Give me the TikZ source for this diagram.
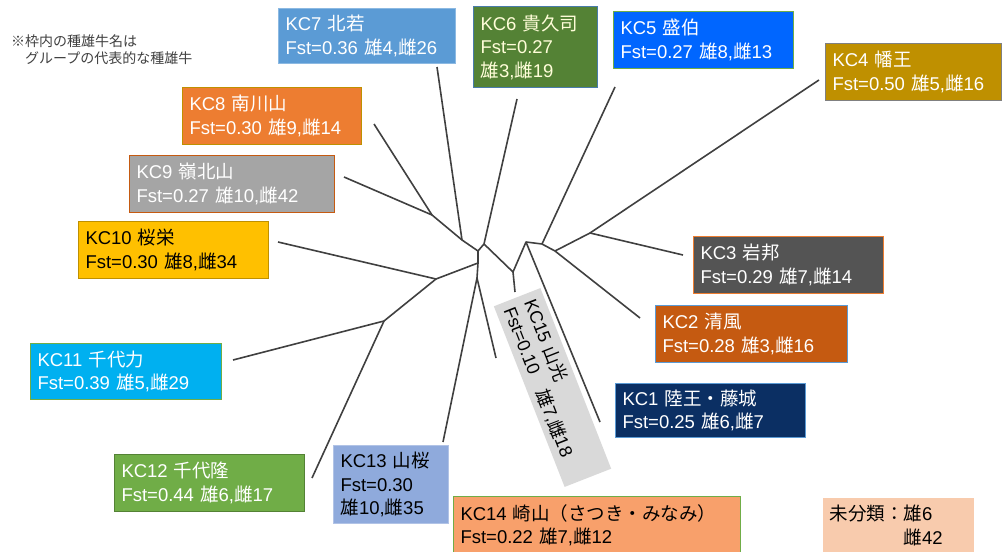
\documentclass[tikz,border=0pt]{standalone}
\usepackage{fontspec}
\setmainfont{Liberation Sans}
\newfontfamily\jp{Noto Sans CJK JP}
\newcommand\J[1]{{\jp #1}}
\definecolor{cK1}{HTML}{0B2F63}
\definecolor{cK2}{HTML}{C55A11}
\definecolor{cK3}{HTML}{545454}
\definecolor{cK4}{HTML}{BF9000}
\definecolor{cK5}{HTML}{0066FF}
\definecolor{cK6}{HTML}{548235}
\definecolor{cK7}{HTML}{5B9BD5}
\definecolor{cK8}{HTML}{ED7D31}
\definecolor{cK9}{HTML}{A5A5A5}
\definecolor{cK10}{HTML}{FFC000}
\definecolor{cK11}{HTML}{00B0F0}
\definecolor{cK12}{HTML}{70AD47}
\definecolor{cK13}{HTML}{8FAADC}
\definecolor{cK14}{HTML}{F8A06B}
\definecolor{cK15}{HTML}{D9D9D9}
\definecolor{cUnc}{HTML}{F8CBAD}
\definecolor{lineC}{HTML}{404040}
\tikzset{
  kb/.style={draw, line width=1pt, anchor=north west, inner xsep=7pt, inner ysep=0pt,
    align=left, font=\fontsize{18.5}{23.5}\selectfont},
  br/.style={draw=lineC, line width=1.6pt, line join=round},
}
\begin{document}
\begin{tikzpicture}[x=1pt,y=-1pt]
\useasboundingbox (0,0) rectangle (1003,551);
% tree points
\coordinate (r) at (478,251);
\coordinate (a7) at (462,240);
\coordinate (a89) at (432,215);
\coordinate (e7) at (437,67);
\coordinate (e8) at (374,124);
\coordinate (e9) at (344,177);
\coordinate (a6) at (484,244);
\coordinate (e6) at (517,99);
\coordinate (aV) at (513,272);
\coordinate (e15) at (515,292);
\coordinate (c) at (526,242);
\coordinate (c5) at (542,244);
\coordinate (c3) at (555,251);
\coordinate (a34) at (590,233);
\coordinate (e4) at (819,80);
\coordinate (e3) at (683,255);
\coordinate (e5) at (615,87);
\coordinate (e2) at (640,318);
\coordinate (e1) at (600,422);
\coordinate (m) at (478,263);
\coordinate (n) at (477,278);
\coordinate (a10) at (436,279);
\coordinate (e10) at (278,242);
\coordinate (a1112) at (384,321);
\coordinate (e11) at (233,360);
\coordinate (e12) at (312,478);
\coordinate (e13) at (443,442);
\coordinate (e14) at (496,358);
% branches
\draw[br] (e8) -- (a89);
\draw[br] (e9) -- (a89) -- (a7) -- (r);
\draw[br] (e7) -- (a7);
\draw[br] (e6) -- (a6) -- (r);
\draw[br] (a6) -- (aV) -- (c) -- (c5) -- (c3) -- (a34) -- (e4);
\draw[br] (aV) -- (e15);
\draw[br] (c) -- (e1);
\draw[br] (c5) -- (e5);
\draw[br] (c3) -- (e2);
\draw[br] (a34) -- (e3);
\draw[br] (r) -- (m) -- (n);
\draw[br] (m) -- (a10) -- (e10);
\draw[br] (a10) -- (a1112) -- (e11);
\draw[br] (a1112) -- (e12);
\draw[br] (n) -- (e13);
\draw[br] (n) -- (e14);
% note
\node[anchor=north west, inner sep=0pt, align=left, text=black!75,
  font=\jp\fontsize{14}{17}\selectfont] (note) at (11,34)
  {※枠内の種雄牛名は\\　グループの代表的な種雄牛};
% boxes
\node[kb, fill=cK7, draw=cK7!70, text=white, minimum height=55pt, text width=163pt] (k7) at (278,8)
  {KC7 \J{北若}\\Fst=0.36 \J{雄}4,\J{雌}26};
\node[kb, fill=cK6, draw=cK7!80!black, text=yellow!15, minimum height=81pt, text width=110pt] (k6) at (473,6)
  {KC6 \J{貴久司}\\Fst=0.27\\\J{雄}3,\J{雌}19};
\node[kb, fill=cK5, draw=cK12, text=white, minimum height=57pt, text width=166pt] (k5) at (613,11)
  {KC5 \J{盛伯}\\Fst=0.27 \J{雄}8,\J{雌}13};
\node[kb, fill=cK4, draw=gray, text=white, minimum height=57pt, text width=162pt] (k4) at (825,43)
  {KC4 \J{幡王}\\Fst=0.50 \J{雄}5,\J{雌}16};
\node[kb, fill=cK8, draw=cK4, text=white, minimum height=57pt, text width=165pt] (k8) at (182,87)
  {KC8 \J{南川山}\\Fst=0.30 \J{雄}9,\J{雌}14};
\node[kb, fill=cK9, draw=cK2, text=white, minimum height=57pt, text width=191pt] (k9) at (129,155)
  {KC9 \J{嶺北山}\\Fst=0.27 \J{雄}10,\J{雌}42};
\node[kb, fill=cK10, draw=cK4, text=black, minimum height=57pt, text width=176pt] (k10) at (78,221)
  {KC10 \J{桜栄}\\Fst=0.30 \J{雄}8,\J{雌}34};
\node[kb, fill=cK11, draw=cK12, text=white, minimum height=56pt, text width=177pt] (k11) at (30,343)
  {KC11 \J{千代力}\\Fst=0.39 \J{雄}5,\J{雌}29};
\node[kb, fill=cK12, draw=cK6, text=white, minimum height=57pt, text width=176pt] (k12) at (114,454)
  {KC12 \J{千代隆}\\Fst=0.44 \J{雄}6,\J{雌}17};
\node[kb, fill=cK13, draw=cK13!70, text=black, minimum height=78pt, text width=101pt] (k13) at (333,445)
  {KC13 \J{山桜}\\Fst=0.30\\\J{雄}10,\J{雌}35};
\node[kb, fill=cK14, draw=cK12, text=black, minimum height=58pt, text width=273pt] (k14) at (453,496)
  {KC14 \J{崎山（さつき・みなみ）}\\Fst=0.22 \J{雄}7,\J{雌}12};
\node[kb, fill=cK3, draw=cK8, text=white, minimum height=57pt, text width=176pt] (k3) at (693,236)
  {KC3 \J{岩邦}\\Fst=0.29 \J{雄}7,\J{雌}14};
\node[kb, fill=cK2, draw=cK7, text=white, minimum height=57pt, text width=178pt] (k2) at (655,305)
  {KC2 \J{清風}\\Fst=0.28 \J{雄}3,\J{雌}16};
\node[kb, fill=cK1, draw=cK7, text=white, minimum height=54pt, text width=176pt] (k1) at (615,383)
  {KC1 \J{陸王・藤城}\\Fst=0.25 \J{雄}6,\J{雌}7};
\node[kb, anchor=center, draw=none, fill=cK15, text=black, rotate=-68.6, minimum height=50pt, text width=180pt,
  font=\fontsize{18}{22}\selectfont] (k15) at (552.5,387.5)
  {KC15 \J{山光}\\Fst=0.10\quad\J{雄}7,\J{雌}18};
\node[kb, draw=none, fill=cUnc, text=black, minimum height=56pt, text width=137pt] (unc) at (822,497)
  {\J{未分類：雄}6\\\J{\phantom{未分類：}雌}42};
\end{tikzpicture}
\end{document}
